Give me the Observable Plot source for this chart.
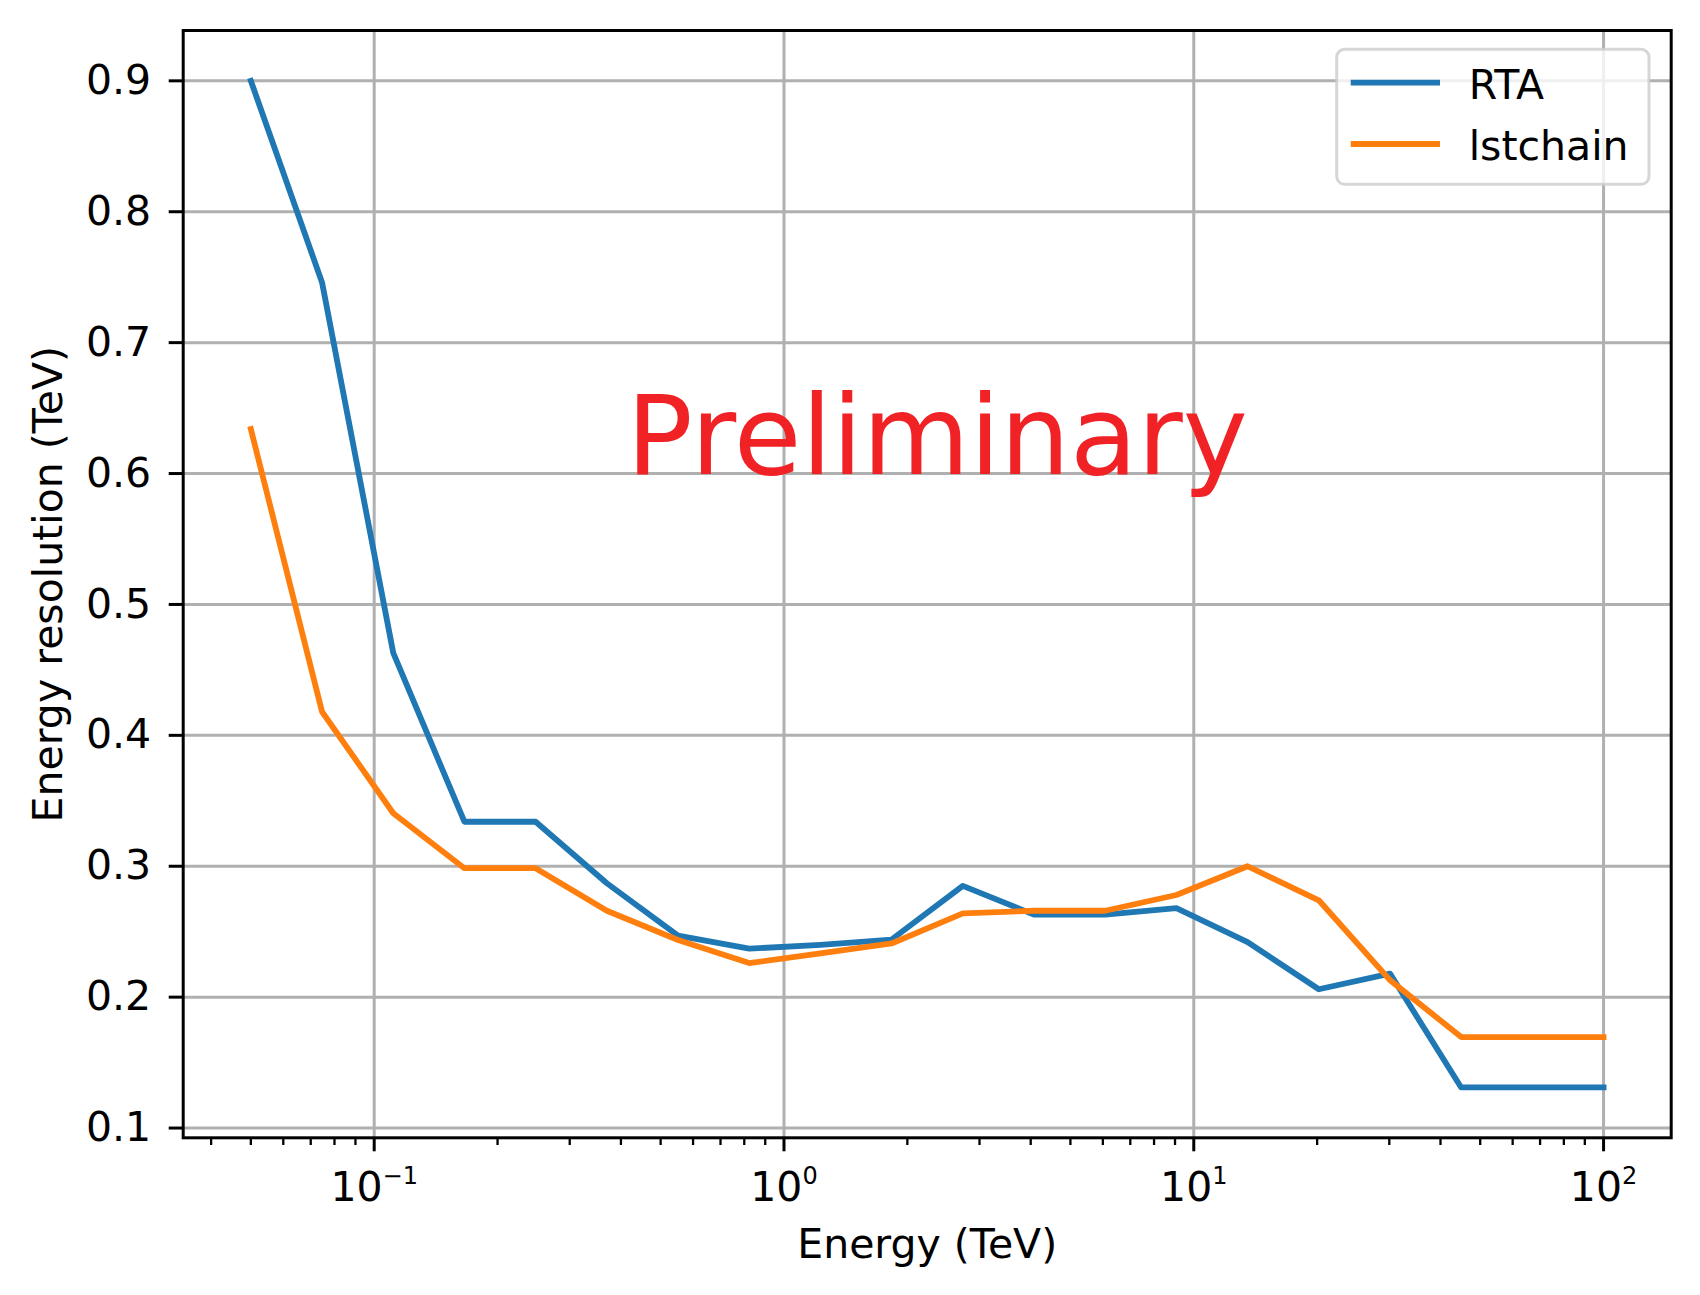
<!DOCTYPE html>
<html><head><meta charset="utf-8">
<script src="https://cdn.jsdelivr.net/npm/d3@7"></script>
<script src="https://cdn.jsdelivr.net/npm/@observablehq/plot@0.6"></script>
<style>html,body{margin:0;padding:0;background:#fff;overflow:hidden}</style>
</head><body><div id="chart"></div>
<script>
// ---- data ----
const energy = [0.05, 0.0746, 0.1113, 0.166, 0.2477, 0.3696, 0.5513, 0.8225, 1.2271, 1.8307,
                2.7313, 4.0748, 6.0791, 9.0694, 13.531, 20.187, 30.117, 44.931, 67.032, 100];
const rta = [0.900, 0.746, 0.463, 0.334, 0.334, 0.287, 0.247, 0.237, 0.240, 0.244,
             0.285, 0.263, 0.263, 0.268, 0.242, 0.206, 0.218, 0.131, 0.131, 0.131];
const lstchain = [0.634, 0.418, 0.3405, 0.2985, 0.2985, 0.266, 0.2437, 0.226, 0.2335, 0.241,
                  0.264, 0.266, 0.266, 0.278, 0.300, 0.274, 0.213, 0.1695, 0.1695, 0.1695];
const seriesNames = ["RTA", "lstchain"];
const seriesColors = ["#1f77b4", "#ff7f0e"];
const xMajorTicks = [0.1, 1, 10, 100];
const xTickLabels = ["10|\u22121", "10|0", "10|1", "10|2"];
const xMinorTicks = [0.04, 0.05, 0.06, 0.07, 0.08, 0.09,
                     0.2, 0.3, 0.4, 0.5, 0.6, 0.7, 0.8, 0.9,
                     2, 3, 4, 5, 6, 7, 8, 9,
                     20, 30, 40, 50, 60, 70, 80, 90];
const yTicks = [0.1, 0.2, 0.3, 0.4, 0.5, 0.6, 0.7, 0.8, 0.9];
const annotations = [{text: "Preliminary", x: 0.413, y: 0.6}];
const xLabel = "Energy (TeV)";
const yLabel = "Energy resolution (TeV)";

// ---- table for the library ----
const seriesValues = {RTA: rta, lstchain: lstchain};
const rows = [];
seriesNames.forEach(name => energy.forEach((e, i) => rows.push({series: name, energy: e, res: seriesValues[name][i]})));

// matplotlib-like 5% margins
const lx = energy.map(Math.log10);
const lmin = d3.min(lx), lmax = d3.max(lx), lr = lmax - lmin;
const xDomain = [Math.pow(10, lmin - 0.05 * lr), Math.pow(10, lmax + 0.05 * lr)];
const allY = rta.concat(lstchain);
const ymin = d3.min(allY), ymax = d3.max(allY), yr = ymax - ymin;
const yDomain = [ymin - 0.05 * yr, ymax + 0.05 * yr];

const W = 1700, H = 1295;
const M = {left: 182.7, right: 29.3, top: 30, bottom: 157.7};
const gridStyle = {stroke: "#b0b0b0", strokeOpacity: 1, strokeWidth: 3};

const svg = Plot.plot({
  width: W, height: H,
  marginLeft: M.left, marginRight: M.right, marginTop: M.top, marginBottom: M.bottom,
  style: {fontFamily: "DejaVu Sans", fontSize: "41px", color: "black", background: "white"},
  x: {type: "log", domain: xDomain},
  y: {domain: yDomain},
  color: {domain: seriesNames, range: seriesColors},
  marks: [
    Plot.gridX(xMajorTicks, gridStyle),
    Plot.gridY(yTicks, gridStyle),
    Plot.line(rows, {x: "energy", y: "res", z: "series", stroke: "series",
      strokeWidth: 5.8, strokeLinecap: "square", strokeLinejoin: "round"}),
    Plot.text(annotations, {x: "x", y: "y", text: "text", fill: "#f12226", fontSize: 110,
      fontFamily: "DejaVu Sans", textAnchor: "start", lineAnchor: "bottom"}),
    Plot.axisY(yTicks, {tickSize: 14, tickPadding: 18, strokeWidth: 3,
      tickFormat: d3.format(".1f"), label: yLabel, labelAnchor: "center", labelOffset: 150, labelArrow: "none"}),
    Plot.axisX(xMajorTicks, {tickSize: 14, tickPadding: 19.6, strokeWidth: 3,
      tickFormat: d => xTickLabels[xMajorTicks.indexOf(d)],
      label: xLabel, labelAnchor: "center", labelOffset: 120, labelArrow: "none"}),
    Plot.axisX(xMinorTicks, {tickSize: 7.7, strokeWidth: 2.3, tickFormat: () => "", label: null}),
    Plot.frame({stroke: "black", strokeWidth: 3})
  ]
});

// superscript exponents on the x tick labels
d3.select(svg).selectAll("text").each(function () {
  const t = this.textContent;
  if (t && t.includes("|")) {
    const [base, exp] = t.split("|");
    this.textContent = "";
    const s = d3.select(this);
    s.append("tspan").text(base);
    s.append("tspan").attr("dy", "-17px").attr("font-size", "24px").text(exp);
  }
});

// legend in the upper right of the frame
const frameRight = W - M.right, frameTop = M.top;
const bw = 312.3, bh = 135;
const bx = frameRight - 21.7 - bw, by = frameTop + 19.3;
const lg = d3.select(svg).append("g").attr("font-family", "DejaVu Sans").attr("font-size", 41)
  .attr("text-anchor", "start");
lg.append("rect").attr("x", bx).attr("y", by).attr("width", bw).attr("height", bh)
  .attr("rx", 8).attr("fill", "white").attr("fill-opacity", 0.8)
  .attr("stroke", "#cccccc").attr("stroke-opacity", 0.8).attr("stroke-width", 3);
seriesNames.forEach((name, i) => {
  const ly = by + 33.4 + i * 61.3;
  lg.append("line").attr("x1", bx + 14).attr("x2", bx + 103.3).attr("y1", ly).attr("y2", ly)
    .attr("stroke", seriesColors[i]).attr("stroke-width", 5.8);
  lg.append("text").attr("x", bx + 132).attr("y", ly + 15.8).attr("fill", "black")
    .attr("text-anchor", "start").text(name);
});

document.getElementById("chart").appendChild(svg);
</script>
</body></html>
